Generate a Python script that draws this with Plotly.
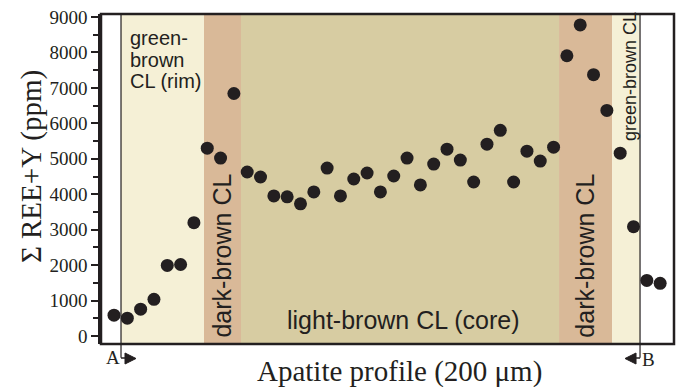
import plotly.graph_objects as go

# Sum of REE + Y along the apatite profile A -> B (ppm), evenly spaced spots
spot = list(range(42))
ree_y = [590, 505, 757, 1037, 1991, 2019, 3197,
         5300, 5019, 6842,
         4627, 4486, 3954, 3926, 3729, 4066, 4739, 3954, 4430, 4599,
         4066, 4514, 5019, 4262, 4851, 5272, 4963, 4346, 5412, 5804,
         4346, 5215, 4935, 5328,
         7907, 8776, 7374, 6365,
         5159, 3084,
         1570, 1486]

# CL zone boundaries along the profile (spot units)
profile_start = 0.526
profile_end = 39.49
zones = [
    (0.526, 6.757, "#F5F0D6"),   # green-brown CL (rim)
    (6.757, 9.535, "#D9B998"),   # dark-brown CL
    (9.535, 33.41, "#D7CCA2"),   # light-brown CL (core)
    (33.41, 37.39, "#D9B998"),   # dark-brown CL
    (37.39, 39.49, "#F5F0D6"),   # green-brown CL
]

ink = "#231F20"
serif = "Liberation Serif"
sans = "Liberation Sans"

fig = go.Figure()
fig.add_trace(go.Scatter(
    x=spot, y=ree_y, mode="markers",
    marker=dict(size=13, color=ink, line=dict(width=0)),
    cliponaxis=False, hoverinfo="skip", showlegend=False,
))

shapes = []
for x0, x1, col in zones:
    shapes.append(dict(type="rect", xref="x", yref="paper", x0=x0, x1=x1,
                       y0=0, y1=1, fillcolor=col, line=dict(width=0),
                       layer="below"))

# profile ends: vertical marker lines with arrow heads below the axis
for xa, direction in ((profile_start, 1), (profile_end, -1)):
    shapes.append(dict(type="line", xref="x", yref="paper", x0=xa, x1=xa,
                       y0=1, y1=-0.042, line=dict(color=ink, width=1.2),
                       layer="above"))
    d = direction
    shapes.append(dict(
        type="path", xref="x", yref="paper",
        xsizemode="pixel", xanchor=xa, ysizemode="pixel", yanchor=0,
        path=(f"M 0 -14 L {4*d} -14 L {4*d} -9 L {15*d} -14.5 "
              f"L {4*d} -20 L {4*d} -14 Z"),
        fillcolor=ink, line=dict(color=ink, width=1), layer="above"))

# plot frame
shapes.append(dict(type="rect", xref="paper", yref="paper", x0=0, x1=1,
                   y0=0, y1=1, line=dict(color=ink, width=2.5),
                   layer="above"))


def label(text, x, y, size, family=sans, xref="x", angle=0,
          xanchor="center", xshift=0):
    return dict(text=text, xref=xref, yref="paper", x=x, y=y,
                xanchor=xanchor, yanchor="middle", xshift=xshift,
                textangle=angle, showarrow=False,
                font=dict(family=family, size=size, color=ink))


annotations = [
    label("Σ REE+Y (ppm)", -0.1222, 0.539, 29, serif, "paper", -90),
    label("Apatite profile (200 μm)", 0.5218, -0.084, 29, serif, "paper"),
    label("A", profile_start, -0.04, 19, serif, xshift=-8.5),
    label("B", profile_end, -0.048, 19, serif, xshift=8.5),
    label("dark-brown CL", 8.11, 0.268, 25, angle=-90),
    label("dark-brown CL", 35.29, 0.268, 25, angle=-90),
    label("light-brown CL (core)", 21.7, 0.072, 25),
    label("green-brown CL", 38.74, 0.809, 18, angle=-90),
]
for line_text, yc in (("green-", 0.927), ("brown", 0.862), ("CL (rim)", 0.797)):
    annotations.append(label(line_text, 1.05, yc, 20, xanchor="left"))

fig.update_layout(
    width=681, height=387,
    margin=dict(l=101, r=7, t=12, b=43),
    paper_bgcolor="white", plot_bgcolor="white",
    shapes=shapes, annotations=annotations,
    xaxis=dict(range=[-0.976, 42.04], showgrid=False, zeroline=False,
               showticklabels=False, ticks="", showline=False),
    yaxis=dict(range=[-224, 9084], showgrid=False, zeroline=False,
               tickmode="array", tickvals=list(range(0, 9001, 1000)),
               ticks="outside", ticklen=7, tickwidth=2, tickcolor=ink,
               showline=True, linecolor=ink, linewidth=2.5,
               tickfont=dict(family=serif, size=19, color=ink),
               minor=dict(tickvals=list(range(500, 9000, 1000)),
                          ticks="outside", ticklen=5, tickwidth=2,
                          tickcolor=ink)),
)

fig.write_html("out.html")
